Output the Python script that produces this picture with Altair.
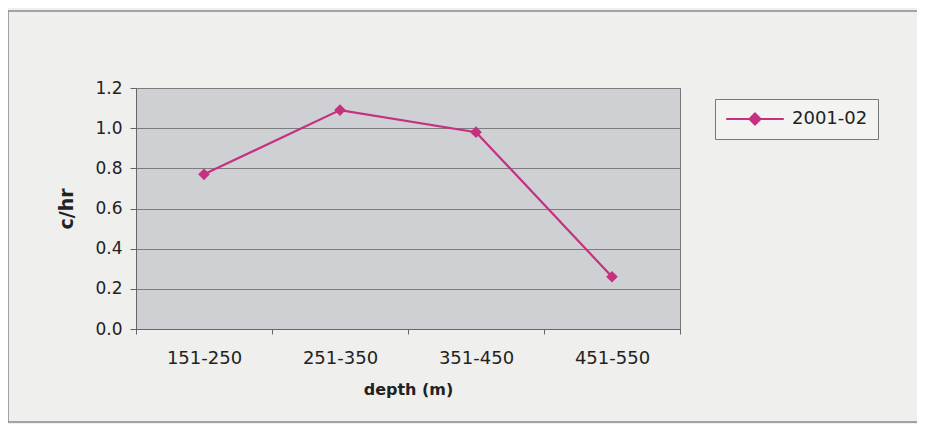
import altair as alt
import pandas as pd

# ---- data ----
categories = ["151-250", "251-350", "351-450", "451-550"]
catch_rate = [0.77, 1.09, 0.98, 0.26]
series_name = ["2001-02"] * len(categories)
y_ticks = [0.0, 0.2, 0.4, 0.6, 0.8, 1.0, 1.2]

df = pd.DataFrame({"depth": categories, "rate": catch_rate, "season": series_name})

LINE_COLOR = "#c43180"
FONT = "DejaVu Sans"
TEXT = "#222222"

x_enc = alt.X(
    "depth:N",
    sort=categories,
    scale=alt.Scale(type="band", paddingInner=0, paddingOuter=0),
    axis=alt.Axis(
        title="depth (m)",
        titleFont=FONT, titleFontSize=16, titleFontWeight="bold", titleColor=TEXT,
        titlePadding=14,
        labelFont=FONT, labelFontSize=18, labelColor=TEXT, labelAngle=0,
        labelPadding=15, tickSize=5, tickBand="extent",
        tickColor="#666", domainColor="#666", grid=False,
    ),
)
y_enc = alt.Y(
    "rate:Q",
    scale=alt.Scale(domain=[0, 1.2], nice=False),
    axis=alt.Axis(
        title="c/hr", values=y_ticks, format=".1f",
        titleFont=FONT, titleFontSize=19, titleFontWeight="bold", titleColor=TEXT,
        titlePadding=18,
        labelFont=FONT, labelFontSize=17, labelColor=TEXT,
        labelPadding=8, tickSize=6, tickColor="#666", domainColor="#666",
        grid=True, gridColor="#7c7c7c", gridWidth=1,
    ),
)

# legend glyph: a line with a diamond in the middle (unit = 9 px)
legend_symbol = "M-3.2,0L3.2,0M0,-0.62L0.62,0L0,0.62L-0.62,0Z"

line = alt.Chart(df).mark_line(strokeWidth=2.2).encode(
    x=x_enc,
    y=y_enc,
    color=alt.Color(
        "season:N",
        scale=alt.Scale(range=[LINE_COLOR]),
        legend=alt.Legend(
            title=None, orient="none", legendX=579, legendY=11,
            symbolType=legend_symbol, symbolSize=324, symbolStrokeWidth=2,
            symbolOffset=20,
            symbolFillColor=LINE_COLOR, symbolStrokeColor=LINE_COLOR,
            labelFont=FONT, labelFontSize=18, labelColor=TEXT, labelOffset=27,
            strokeColor="#777", fillColor="#f3f3f1", padding=10,
        ),
    ),
)

points = alt.Chart(df).mark_point(
    shape="diamond", filled=True, size=135, opacity=1, color=LINE_COLOR
).encode(x=x_enc, y=y_enc)

frame = pd.DataFrame({"k": [0]})
frame_style = dict(color="#8a8a8a", strokeWidth=1.5)
top_rule = alt.Chart(frame).mark_rule(**frame_style).encode(
    x=alt.value(-128), x2=alt.value(790), y=alt.value(-77)
)
bottom_rule = alt.Chart(frame).mark_rule(**frame_style).encode(
    x=alt.value(-128), x2=alt.value(790), y=alt.value(334)
)
left_rule = alt.Chart(frame).mark_rule(**frame_style).encode(
    x=alt.value(-128), y=alt.value(-77), y2=alt.value(334)
)

chart = (
    alt.layer(top_rule, bottom_rule, left_rule, line, points)
    .properties(
        width=544, height=241,
        autosize=alt.AutoSizeParams(type="none"),
        padding={"left": 128, "top": 80, "right": 237, "bottom": 95},
        background="#efefed",
    )
    .configure_view(fill="#cfd0d4", stroke="#777", strokeWidth=1)
)

chart.save("out.html", embed_options={"renderer": "svg", "actions": False})
